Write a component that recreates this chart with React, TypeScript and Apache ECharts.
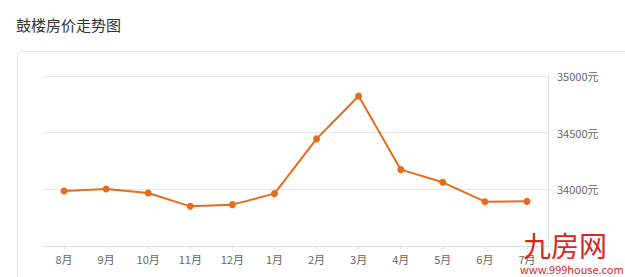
import React, { useEffect, useRef } from "react";
import * as echarts from "echarts";

const months = ["8月", "9月", "10月", "11月", "12月", "1月", "2月", "3月", "4月", "5月", "6月", "7月"];
const prices = [33985, 34003, 33967, 33850, 33865, 33962, 34445, 34823, 34174, 34062, 33891, 33894];
const yMin = 33500;
const yMax = 35000;
const yStep = 500;
const yUnit = "元";
const titleText = "鼓楼房价走势图";
const brandText = "九房网";
const siteText = "www.999house.com";

const FONT = "'Noto Sans CJK SC', 'Noto Sans', sans-serif";

export default function App() {
  const ref = useRef<HTMLDivElement>(null);
  useEffect(() => {
    if (!ref.current) return;
    const chart = echarts.init(ref.current, null, { renderer: "svg" });
    chart.setOption({
      animation: false,
      backgroundColor: "#ffffff",
      textStyle: { fontFamily: FONT },
      graphic: [
        {
          type: "rect",
          z: -10,
          silent: true,
          shape: { x: 17.5, y: 51.5, width: 700, height: 300, r: 4 },
          style: { fill: "#ffffff", stroke: "#e3e3e3", lineWidth: 1 },
        },
        {
          type: "text",
          left: 16,
          top: 17,
          style: { text: titleText, fill: "#333333", font: `15px ${FONT}` },
        },
        {
          type: "text",
          z: 100,
          left: 523,
          top: 230,
          style: { text: brandText, fill: "#d9261c", font: `normal 28px ${FONT}`, lineHeight: 30 },
        },
        {
          type: "text",
          z: 100,
          left: 520,
          top: 263,
          style: { text: siteText, fill: "#d9261c", font: `11px ${FONT}`, lineHeight: 12 },
        },
      ],
      grid: { left: 43, right: 77, top: 76, bottom: 31, containLabel: false },
      xAxis: {
        type: "category",
        data: months,
        boundaryGap: true,
        axisLine: { lineStyle: { color: "#dddddd", width: 1 } },
        axisTick: { show: true, alignWithLabel: true, length: 3, lineStyle: { color: "#dddddd" } },
        axisLabel: { color: "#666666", fontSize: 11, margin: 7, fontFamily: FONT },
        splitLine: { show: false },
      },
      yAxis: {
        type: "value",
        position: "right",
        min: yMin,
        max: yMax,
        interval: yStep,
        axisLine: { show: true, lineStyle: { color: "#dddddd", width: 1 } },
        axisTick: { show: false },
        axisLabel: {
          color: "#666666",
          fontSize: 11,
          margin: 9,
          fontFamily: FONT,
          formatter: (v: number) => (v === yMin ? "" : String(v) + yUnit),
        },
        splitLine: { show: true, lineStyle: { color: "#e6e6e6", width: 1 } },
      },
      series: [
        {
          type: "line",
          data: prices,
          symbol: "circle",
          symbolSize: 7,
          showSymbol: true,
          lineStyle: { color: "#e46c1c", width: 2 },
          itemStyle: { color: "#e46c1c" },
        },
      ],
    });
    return () => chart.dispose();
  }, []);
  return (
    <div
      ref={ref}
      style={{ position: "absolute", left: 0, top: 0, width: 625, height: 277 }}
    />
  );
}
